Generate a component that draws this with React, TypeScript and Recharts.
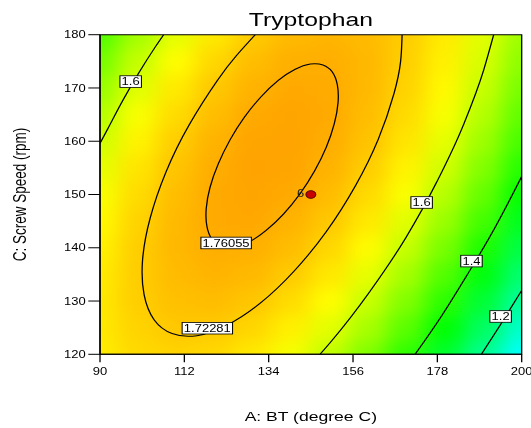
import { ComposedChart, XAxis, YAxis, Line, Scatter, ReferenceArea } from 'recharts'

// The reference is a Design-Expert contour plot that was stretched sideways,
// so the chart is drawn narrow and then scaled on x.
const W = 408
const H = 428
const STRETCH = 531 / W
const PLOT = { left: 76.84, top: 34.7, right: 400.85, bottom: 354.3 }
const FONT = 'Arial, "Liberation Sans", Helvetica, sans-serif'

const xTicks = [90, 112, 134, 156, 178, 200]
const yTicks = [120, 130, 140, 150, 160, 170, 180]

// response surface (Tryptophan), rows = screw speed, cols = BT
const gridX = [90, 100, 110, 120, 130, 140, 150, 160, 170, 180, 190, 200]
const gridY = [120, 125, 130, 135, 140, 145, 150, 155, 160, 165, 170, 175, 180]
const gridValues = [
  [1.676, 1.701, 1.711, 1.704, 1.68, 1.64, 1.583, 1.511, 1.421, 1.315, 1.193, 1.055],
  [1.68, 1.711, 1.726, 1.724, 1.706, 1.671, 1.62, 1.553, 1.469, 1.368, 1.251, 1.118],
  [1.681, 1.717, 1.737, 1.741, 1.728, 1.698, 1.653, 1.59, 1.512, 1.417, 1.305, 1.177],
  [1.677, 1.719, 1.744, 1.753, 1.746, 1.722, 1.681, 1.624, 1.551, 1.461, 1.355, 1.232],
  [1.669, 1.717, 1.747, 1.761, 1.759, 1.741, 1.705, 1.654, 1.586, 1.502, 1.401, 1.283],
  [1.658, 1.71, 1.746, 1.766, 1.769, 1.755, 1.726, 1.68, 1.617, 1.538, 1.442, 1.33],
  [1.642, 1.699, 1.741, 1.766, 1.774, 1.766, 1.742, 1.701, 1.644, 1.57, 1.48, 1.373],
  [1.622, 1.685, 1.731, 1.762, 1.776, 1.773, 1.754, 1.718, 1.666, 1.598, 1.513, 1.412],
  [1.597, 1.666, 1.718, 1.754, 1.773, 1.775, 1.762, 1.732, 1.685, 1.622, 1.542, 1.447],
  [1.569, 1.643, 1.7, 1.741, 1.766, 1.774, 1.766, 1.741, 1.699, 1.642, 1.568, 1.477],
  [1.537, 1.616, 1.679, 1.725, 1.755, 1.768, 1.765, 1.746, 1.71, 1.658, 1.589, 1.503],
  [1.5, 1.585, 1.653, 1.705, 1.74, 1.759, 1.761, 1.747, 1.716, 1.669, 1.606, 1.526],
  [1.46, 1.55, 1.623, 1.68, 1.721, 1.745, 1.752, 1.743, 1.718, 1.677, 1.618, 1.544],
]

// contour lines, points
const contour16Left = [
  { x: 90, y: 159.6 }, { x: 92, y: 162.3 }, { x: 95.9, y: 167.6 },
  { x: 100.1, y: 172.8 }, { x: 104.6, y: 177.9 }, { x: 106.6, y: 180 },
]
const contour1723 = [
  { x: 130.5, y: 180 }, { x: 125.5, y: 176 }, { x: 120.7, y: 171.5 }, { x: 113.2, y: 163 },
  { x: 107.2, y: 154.2 }, { x: 103.1, y: 145.6 }, { x: 101.1, y: 137.7 }, { x: 101.5, y: 131.2 },
  { x: 104.1, y: 126.5 }, { x: 108.8, y: 123.9 }, { x: 115.3, y: 123.5 }, { x: 123.2, y: 125.5 },
  { x: 131.8, y: 129.6 }, { x: 140.6, y: 135.6 }, { x: 149.1, y: 143.1 }, { x: 156.6, y: 151.6 },
  { x: 162.6, y: 160.4 }, { x: 166.7, y: 169 }, { x: 168.4, y: 174.9 }, { x: 168.8, y: 180 },
]
const contour1761 = [
  { x: 150.8, y: 173.2 }, { x: 148.3, y: 174.5 }, { x: 145, y: 174.7 }, { x: 141, y: 173.7 },
  { x: 136.5, y: 171.6 }, { x: 132, y: 168.5 }, { x: 127.6, y: 164.6 }, { x: 123.8, y: 160.3 },
  { x: 120.7, y: 155.7 }, { x: 118.5, y: 151.3 }, { x: 117.5, y: 147.2 }, { x: 117.7, y: 143.9 },
  { x: 119, y: 141.4 }, { x: 121.5, y: 140.1 }, { x: 124.8, y: 139.9 }, { x: 128.9, y: 140.9 },
  { x: 133.3, y: 143.1 }, { x: 137.9, y: 146.2 }, { x: 142.2, y: 150 }, { x: 146.1, y: 154.4 },
  { x: 149.2, y: 158.9 }, { x: 151.3, y: 163.4 }, { x: 152.3, y: 167.4 }, { x: 152.1, y: 170.7 },
]
const contour16Right = [
  { x: 147.4, y: 120 }, { x: 150.4, y: 122.5 }, { x: 160.4, y: 131.8 }, { x: 169.7, y: 141.8 },
  { x: 177.8, y: 152.3 }, { x: 184.7, y: 162.9 }, { x: 190.1, y: 173.4 }, { x: 192.7, y: 180 },
]
const contour14 = [
  { x: 172.2, y: 120 }, { x: 179.1, y: 127.2 }, { x: 185.6, y: 134.7 },
  { x: 191.8, y: 142.2 }, { x: 197.6, y: 150 }, { x: 200, y: 153.4 },
]
const contour12 = [{ x: 189.5, y: 120 }, { x: 194.5, y: 125.6 }, { x: 200, y: 132 }]

const contourLabels = [
  { x: 98.0, y: 171.2, text: '1.6' },
  { x: 122.9, y: 140.9, text: '1.76055' },
  { x: 118, y: 124.9, text: '1.72281' },
  { x: 173.9, y: 148.5, text: '1.6' },
  { x: 186.9, y: 137.5, text: '1.4' },
  { x: 194.5, y: 127.1, text: '1.2' },
]

const centerPoints = [{ x: 145, y: 150, count: 6 }]

const heatData = gridY.flatMap((y, i) => gridX.map((x, j) => ({ x, y, v: gridValues[i][j] })))

const STOPS: [number, number[]][] = [
  [1.05, [0, 255, 255]],
  [1.37, [0, 255, 0]],
  [1.65, [255, 255, 0]],
  [2.0, [255, 0, 0]],
]

function colorFor(v: number) {
  if (v <= STOPS[0][0]) return `rgb(${STOPS[0][1].join(',')})`
  for (let i = 1; i < STOPS.length; i++) {
    const [v1, c1] = STOPS[i]
    const [v0, c0] = STOPS[i - 1]
    if (v <= v1) {
      const t = (v - v0) / (v1 - v0)
      const c = c0.map((a, k) => Math.round(a + (c1[k] - a) * t))
      return `rgb(${c.join(',')})`
    }
  }
  return 'rgb(255,0,0)'
}

const cellW = ((PLOT.right - PLOT.left) / 110) * 10
const cellH = ((PLOT.bottom - PLOT.top) / 60) * 5

function HeatCell(props: any) {
  const { cx, cy, payload } = props
  return (
    <rect
      x={cx - cellW / 2 - 0.5}
      y={cy - cellH / 2 - 0.5}
      width={cellW + 1}
      height={cellH + 1}
      fill={colorFor(payload.v)}
    />
  )
}

function textWidth(s: string) {
  return s.split('').reduce((w, ch) => w + (ch === '.' ? 2.78 : 5.56), 0)
}

function ContourLabel(props: any) {
  const { cx, cy, payload } = props
  const w = textWidth(payload.text) + 2.6
  const h = 11.6
  return (
    <g>
      <rect x={cx - w / 2} y={cy - h / 2} width={w} height={h} fill="#fff" stroke="#000" strokeWidth={0.8} />
      <text x={cx} y={cy + 3.6} textAnchor="middle" fontSize={10} fontFamily={FONT} fill="#000">
        {payload.text}
      </text>
    </g>
  )
}

function CenterDot(props: any) {
  const { cx, cy, payload } = props
  return (
    <g>
      <text x={cx - 5} y={cy + 3} textAnchor="end" fontSize={10} fontFamily={FONT} fill="#222">
        {payload.count}
      </text>
      <circle cx={cx} cy={cy} r={3.8} fill="#c80000" stroke="#4a0000" strokeWidth={0.8} />
    </g>
  )
}

const tickStyle = { fontSize: 10, fill: '#000', fontFamily: FONT }

const contours: { points: { x: number; y: number }[]; curve: any }[] = [
  { points: contour16Left, curve: 'monotone' },
  { points: contour1723, curve: 'natural' },
  { points: contour1761, curve: 'basisClosed' },
  { points: contour16Right, curve: 'monotone' },
  { points: contour14, curve: 'monotone' },
  { points: contour12, curve: 'monotone' },
]

export default function App() {
  return (
    <div
      style={{
        position: 'absolute',
        left: 0,
        top: 0,
        width: W,
        height: H,
        transform: `scaleX(${STRETCH})`,
        transformOrigin: '0 0',
        background: '#fff',
      }}
    >
      <style>{`.heat { filter: url(#heatBlur); clip-path: url(#heatClip); }`}</style>
      <svg width={0} height={0} style={{ position: 'absolute' }}>
        <defs>
          <filter
            id="heatBlur"
            filterUnits="userSpaceOnUse"
            x={0}
            y={0}
            width={W}
            height={H}
            colorInterpolationFilters="sRGB"
          >
            <feGaussianBlur stdDeviation={8} />
            <feComponentTransfer>
              <feFuncA type="linear" slope={0} intercept={1} />
            </feComponentTransfer>
          </filter>
          <clipPath id="heatClip" clipPathUnits="userSpaceOnUse">
            <rect
              x={PLOT.left}
              y={PLOT.top}
              width={PLOT.right - PLOT.left}
              height={PLOT.bottom - PLOT.top}
            />
          </clipPath>
        </defs>
      </svg>
      <ComposedChart
        width={W}
        height={H}
        margin={{ top: PLOT.top, right: W - PLOT.right, bottom: 0, left: PLOT.left - 60 }}
      >
        <XAxis
          dataKey="x"
          type="number"
          domain={[90, 200]}
          ticks={xTicks}
          interval={0}
          allowDataOverflow
          height={H - PLOT.bottom}
          tickSize={8}
          tickMargin={6}
          axisLine={{ stroke: '#000' }}
          tickLine={{ stroke: '#000' }}
          tick={tickStyle}
        />
        <YAxis
          dataKey="y"
          type="number"
          domain={[120, 180]}
          ticks={yTicks}
          interval={0}
          allowDataOverflow
          width={60}
          tickSize={9}
          tickMargin={2}
          axisLine={{ stroke: '#000' }}
          tickLine={{ stroke: '#000' }}
          tick={tickStyle}
        />
        <Scatter
          data={heatData}
          className="heat"
          shape={HeatCell}
          isAnimationActive={false}
          zIndex={-10}
        />
        <ReferenceArea x1={90} x2={200} y1={120} y2={180} fill="none" stroke="#000" strokeWidth={1} fillOpacity={0} />
        {contours.map((c, i) => (
          <Line
            key={i}
            data={c.points}
            dataKey="y"
            type={c.curve}
            stroke="#000"
            strokeWidth={1}
            dot={false}
            activeDot={false}
            isAnimationActive={false}
          />
        ))}
        <Scatter data={contourLabels} shape={ContourLabel} isAnimationActive={false} />
        <Scatter data={centerPoints} shape={CenterDot} isAnimationActive={false} />
      </ComposedChart>
      <svg
        width={W}
        height={H}
        style={{ position: 'absolute', left: 0, top: 0, pointerEvents: 'none' }}
        fontFamily={FONT}
      >
        <text x={(PLOT.left + PLOT.right) / 2} y={26} textAnchor="middle" fontSize={19} fill="#000">
          Tryptophan
        </text>
        <text x={(PLOT.left + PLOT.right) / 2} y={421} textAnchor="middle" fontSize={13.5} fill="#000">
          A: BT (degree C)
        </text>
        <text
          transform={`translate(20, ${(PLOT.top + PLOT.bottom) / 2}) rotate(-90)`}
          textAnchor="middle"
          fontSize={13.5}
          fill="#000"
        >
          C: Screw Speed (rpm)
        </text>
      </svg>
    </div>
  )
}
